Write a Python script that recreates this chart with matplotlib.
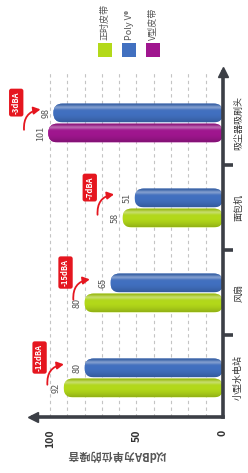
import matplotlib
matplotlib.use("Agg")
import matplotlib.pyplot as plt
import numpy as np
from matplotlib.patches import FancyBboxPatch, Rectangle
from matplotlib.colors import to_rgb

plt.rcParams['font.family'] = ['Noto Sans CJK SC', 'DejaVu Sans']

# 数据
categories = ['小型水电站', '风扇', '面包机', '吸尘器吸刷头']
old_belt = [92, 80, 58, 101]
old_kind = ['正时皮带', '正时皮带', '正时皮带', 'V型皮带']
poly_v = [80, 65, 51, 98]
reduction = ['-12dBA', '-15dBA', '-7dBA', '-3dBA']

series_names = ['正时皮带', 'Poly V®', 'V型皮带']
series_colors = ['#b3d91a', '#4170c0', '#a0168f']
color_of = dict(zip(series_names, series_colors))

W, H = 248, 473
fig = plt.figure(figsize=(W / 100, H / 100), dpi=100)
# 整张图是把竖直柱状图逆时针转了90度
ax = fig.add_axes([33 / W, 1 - 417 / H, 190 / W, 345 / H])
XL = (109.8, 0)
YL = (-0.46, 3.6)
ax.set_xlim(XL)
ax.set_ylim(YL)

axis_col = '#3c3f46'
for s in ['left', 'top']:
    ax.spines[s].set_visible(False)
for s in ['right', 'bottom']:
    ax.spines[s].set_color(axis_col)
    ax.spines[s].set_linewidth(2.6)
ax.plot(0, 0, marker='<', ms=7, color=axis_col, transform=ax.transAxes, clip_on=False)
ax.plot(1, 1, marker='^', ms=7, color=axis_col, transform=ax.transAxes, clip_on=False)

# 网格
ax.set_xticks([0, 50, 100])
ax.set_xticks(np.arange(10, 101, 10), minor=True)
ax.grid(axis='x', which='both', color='#c4c4c4', lw=0.8, ls=(0, (3, 3)), zorder=0)
ax.tick_params(axis='x', which='both', length=0, pad=9)
for lab in ax.get_xticklabels():
    lab.set_rotation(90)
    lab.set_va('top')
    lab.set_ha('center')
    lab.set_fontsize(7.5)
    lab.set_fontweight('bold')
    lab.set_color('#333333')

pos = np.arange(len(categories))
ax.yaxis.tick_right()
ax.set_yticks(pos)
ax.set_yticklabels(categories, rotation=90, va='center', ha='left', fontsize=6.5, color='#333333')
ax.set_yticks(pos[:-1] + 0.5, minor=True)
ax.tick_params(axis='y', which='major', length=0, pad=8)
ax.tick_params(axis='y', which='minor', length=7, width=2.6, color=axis_col, direction='out')

ax.text(0.44, -0.11, '以dBA为单位的噪音', rotation=180, transform=ax.transAxes,
        ha='center', va='center', fontsize=8, fontweight='bold', color='#555555')

# 柱子
bh = 0.22
off = 0.118
old_cols = [color_of[k] for k in old_kind]
bars_old = ax.barh(pos - off, old_belt, height=bh, color=old_cols, zorder=2)
bars_new = ax.barh(pos + off, poly_v, height=bh, color=color_of['Poly V®'], zorder=2)

p0 = ax.transData.transform((0, 0))
p1 = ax.transData.transform((1, 1))
asp = abs(p1[0] - p0[0]) / abs(p1[1] - p0[1])

t = np.linspace(0, 1, 60)
def shade(col):
    c = np.array(to_rgb(col))
    base = c[None, :] * (0.78 + 0.22 * np.sin(np.pi * t * 0.9 + 0.15))[:, None]
    hi = 0.35 * np.exp(-((t - 0.78) / 0.1) ** 2)
    img = base * (1 - hi[:, None]) + hi[:, None]
    return np.clip(img, 0, 1)[:, None, :]

for bars in (bars_old, bars_new):
    for p in bars:
        x, y, w, h = p.get_x(), p.get_y(), p.get_width(), p.get_height()
        col = p.get_facecolor()
        p.set_visible(False)
        box = FancyBboxPatch((x, y), w, h, boxstyle='round,pad=0,rounding_size=5.2',
                             mutation_aspect=asp, fc=col, ec='none', zorder=2)
        ax.add_patch(box)
        im = ax.imshow(shade(col), extent=(x, x + w, y, y + h), origin='lower',
                       aspect='auto', interpolation='bilinear', zorder=2.1)
        im.set_clip_path(box)

ax.set_xlim(XL)
ax.set_ylim(YL)

# 数值
for yy, v in zip(pos - off, old_belt):
    ax.text(v + 1.8, yy, str(v), rotation=90, ha='right', va='center', fontsize=6.5, color='#555555')
for yy, v in zip(pos + off, poly_v):
    ax.text(v + 1.8, yy, str(v), rotation=90, ha='right', va='center', fontsize=6.5, color='#555555')

# 降噪标注
red = '#e5161f'
for p, v, txt in zip(pos, poly_v, reduction):
    bx = min(v + 26, 119.5)
    ax.text(bx, p + 0.24, txt, rotation=90, ha='center', va='center', fontsize=5.5,
            fontweight='bold', color='white', clip_on=False,
            bbox=dict(boxstyle='round,pad=0.35,rounding_size=0.3', fc=red, ec='none'))
    ax.annotate('', xy=(bx - 14, p + 0.16), xytext=(bx - 4.5, p - 0.08),
                annotation_clip=False,
                arrowprops=dict(arrowstyle='-|>,head_length=0.4,head_width=0.22', color=red, lw=1.3,
                                connectionstyle='arc3,rad=-0.45', shrinkA=0, shrinkB=0))

# 图例
for i, (name, col) in enumerate(zip(series_names, series_colors)):
    cx = (105 + i * 24) / W
    fig.patches.append(Rectangle((cx - 7 / W, 1 - 57 / H), 14 / W, 14 / H,
                                 transform=fig.transFigure, fc=col, ec='none'))
    fig.text(cx, 1 - 40 / H, name, rotation=90, ha='center', va='bottom', fontsize=6.5, color='#555555')

fig.savefig('out.png', dpi=100, facecolor='white')
